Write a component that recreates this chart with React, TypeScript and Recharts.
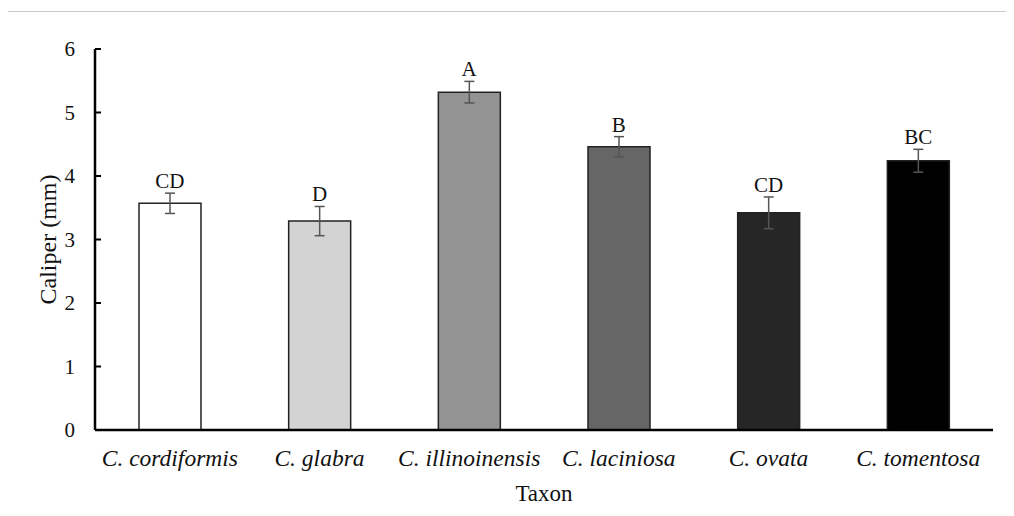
import React from 'react';
import { ComposedChart, Bar, Line, ErrorBar, XAxis, YAxis, Cell, LabelList, Label } from 'recharts';

const taxa = ['C. cordiformis', 'C. glabra', 'C. illinoinensis', 'C. laciniosa', 'C. ovata', 'C. tomentosa'];
const caliper = [3.57, 3.29, 5.32, 4.46, 3.42, 4.24];
const stdErr = [0.16, 0.23, 0.17, 0.16, 0.25, 0.18];
const letters = ['CD', 'D', 'A', 'B', 'CD', 'BC'];
const fills = ['#ffffff', '#d3d3d3', '#939393', '#666666', '#262626', '#000000'];
const yTicks = [0, 1, 2, 3, 4, 5, 6];

const data = taxa.map((name, i) => ({
  name,
  caliper: caliper[i],
  err: stdErr[i],
  top: caliper[i] + stdErr[i],
  letter: letters[i],
}));

const FONT = '"Liberation Serif", "Times New Roman", serif';

// tick marks point inward (right of the axis), like the original
const YTick = (props: any) => {
  const { x, y, payload } = props;
  return (
    <g>
      <line x1={x + 20} x2={x + 26} y1={y} y2={y} stroke="#000" strokeWidth={2} />
      <text x={x} y={y} dy={7} textAnchor="end" fontFamily={FONT} fontSize={21} fill="#111">
        {payload.value}
      </text>
    </g>
  );
};

export default function App() {
  return (
    <div style={{ position: 'relative', width: 1014, height: 516, margin: -8, background: '#fff', overflow: 'hidden' }}>
      <div style={{ position: 'absolute', left: 0, top: 0 }}>
        <ComposedChart width={1014} height={516} data={data} margin={{ top: 49, right: 21, bottom: 0, left: 35 }} barSize={62}>
          <XAxis
            dataKey="name"
            axisLine={{ stroke: '#000', strokeWidth: 2.5 }}
            tickLine={false}
            tickSize={0}
            tickMargin={19}
            tick={{ fontFamily: FONT, fontSize: 23.5, fontStyle: 'italic', fill: '#111' }}
            interval={0}
            height={86}
          >
            <Label value="Taxon" position="insideBottom" offset={15} style={{ fontFamily: FONT, fontSize: 23, fill: '#111' }} />
          </XAxis>
          <YAxis
            domain={[0, 6]}
            ticks={yTicks}
            width={60}
            axisLine={{ stroke: '#000', strokeWidth: 2.5 }}
            tickLine={false}
            tickSize={0}
            tickMargin={20}
            tick={<YTick />}
          >
            <Label
              value="Caliper (mm)"
              angle={-90}
              position="insideLeft"
              offset={12}
              style={{ fontFamily: FONT, fontSize: 24, fill: '#111', textAnchor: 'middle' }}
            />
          </YAxis>
          <Bar dataKey="caliper" stroke="#222" strokeWidth={1.5} isAnimationActive={false}>
            {fills.map((c, i) => (
              <Cell key={i} fill={c} />
            ))}
            <ErrorBar dataKey="err" width={5} stroke="#555" strokeWidth={1.5} direction="y" />
          </Bar>
          <Line dataKey="top" stroke="none" dot={false} activeDot={false} isAnimationActive={false}>
            <LabelList dataKey="letter" position="top" offset={5} style={{ fontFamily: FONT, fontSize: 21, fill: '#111' }} />
          </Line>
        </ComposedChart>
      </div>
      <div style={{ position: 'absolute', left: 7, top: 11, width: 999, height: 520, border: '1px solid #cccccc', pointerEvents: 'none' }} />
    </div>
  );
}
